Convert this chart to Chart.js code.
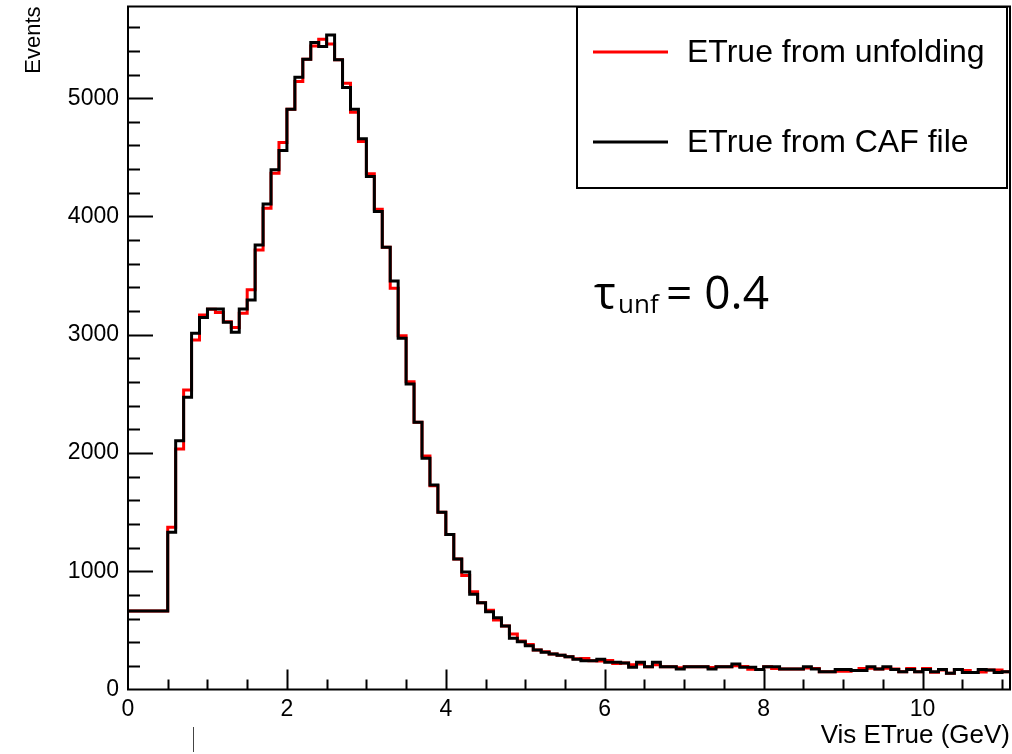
<!DOCTYPE html>
<html>
<head>
<meta charset="utf-8">
<script src="https://cdn.jsdelivr.net/npm/chart.js@4"></script>
<style>
  html, body { margin: 0; padding: 0; background: #fff; }
  #wrap { width: 1012px; height: 754px; }
</style>
</head>
<body>
<div id="wrap"><canvas id="chart" width="1012" height="754"></canvas></div>
<script>
// Bin edges (GeV): one wide bin 0-0.5, then 0.1 GeV bins up to 11.1
const binEdges = [0].concat(Array.from({ length: 107 }, (_, i) => Math.round((0.5 + i * 0.1) * 10) / 10));

// Counts per bin
const cafCounts = [
  664,
  1329, 2104, 2471, 3012, 3145, 3218, 3218, 3105, 3021, 3218,
  3294, 3759, 4106, 4394, 4557, 4907, 5177, 5330, 5470, 5437,
  5535, 5324, 5090, 4907, 4656, 4337, 4041, 3740, 3455, 2970,
  2584, 2260, 1955, 1730, 1499, 1310, 1104, 993, 805, 734,
  658, 607, 537, 433, 404, 370, 334, 315, 300, 290,
  277, 255, 244, 244, 255, 230, 230, 225, 188, 230,
  193, 230, 193, 193, 173, 193, 193, 193, 173, 193,
  193, 216, 188, 188, 170, 193, 193, 173, 173, 173,
  193, 173, 150, 150, 170, 170, 160, 160, 193, 173,
  193, 170, 150, 170, 150, 170, 150, 170, 137, 170,
  143, 143, 170, 165, 143, 150
];

const unfoldCounts = [
  664,
  1372, 2034, 2533, 2956, 3167, 3215, 3187, 3110, 3060, 3181,
  3379, 3717, 4070, 4366, 4625, 4907, 5141, 5330, 5442, 5499,
  5457, 5324, 5127, 4881, 4633, 4360, 4061, 3740, 3393, 2992,
  2603, 2260, 1975, 1722, 1499, 1310, 1104, 963, 827, 734,
  670, 588, 537, 469, 410, 380, 334, 320, 300, 290,
  277, 260, 262, 244, 240, 245, 220, 225, 210, 215,
  193, 210, 193, 193, 183, 193, 193, 193, 185, 193,
  193, 200, 195, 172, 170, 193, 178, 173, 173, 173,
  182, 178, 150, 150, 155, 155, 160, 178, 180, 173,
  180, 173, 150, 178, 150, 178, 145, 165, 137, 170,
  160, 143, 148, 165, 165, 150
];

const seriesLabels = ['ETrue from unfolding', 'ETrue from CAF file'];
const seriesColors = ['#ff0000', '#000000'];
const xTickLabels = [0, 2, 4, 6, 8, 10];
const yTickLabels = [0, 1000, 2000, 3000, 4000, 5000];
const xRange = [0, 11.1];
const yRange = [0, 5775];
const xMinorStep = 0.5;
const yMinorStep = 200;

// histogram -> step points (low edge of each bin, plus closing point)
function toSteps(counts) {
  const pts = counts.map((c, i) => ({ x: binEdges[i], y: c }));
  pts.push({ x: binEdges[counts.length], y: counts[counts.length - 1] });
  return pts;
}

const rootStyle = {
  id: 'rootStyle',
  afterDatasetsDraw(chart) {
    const { ctx, chartArea: a, scales: { x, y } } = chart;
    ctx.save();
    ctx.strokeStyle = '#000';
    ctx.lineWidth = 2;
    ctx.strokeRect(a.left, a.top, a.right - a.left, a.bottom - a.top);

    // inward ticks, ROOT style
    ctx.beginPath();
    for (let v = yMinorStep; v <= yRange[1]; v += yMinorStep) {
      const py = Math.round(y.getPixelForValue(v)) + 0.5;
      const len = yTickLabels.includes(v) ? 25 : 12;
      ctx.moveTo(a.left, py);
      ctx.lineTo(a.left + len, py);
    }
    for (let i = 1; i * xMinorStep <= xRange[1]; i++) {
      const v = i * xMinorStep;
      const px = Math.round(x.getPixelForValue(v)) + 0.5;
      const len = xTickLabels.includes(v) ? 20 : 10;
      ctx.moveTo(px, a.bottom);
      ctx.lineTo(px, a.bottom - len);
    }
    ctx.stroke();

    // legend box
    const box = { left: 577, top: 7, right: 1007, bottom: 188 };
    ctx.fillStyle = '#fff';
    ctx.fillRect(box.left, box.top, box.right - box.left, box.bottom - box.top);
    ctx.lineWidth = 2;
    ctx.strokeRect(box.left, box.top, box.right - box.left, box.bottom - box.top);
    ctx.font = '32px "Liberation Sans", Arial, sans-serif';
    ctx.textBaseline = 'middle';
    ctx.textAlign = 'left';
    chart.data.datasets.forEach((ds, i) => {
      const ly = 52 + i * 90;
      ctx.strokeStyle = ds.borderColor;
      ctx.lineWidth = 3;
      ctx.beginPath();
      ctx.moveTo(593, ly);
      ctx.lineTo(668, ly);
      ctx.stroke();
      ctx.fillStyle = '#000';
      ctx.fillText(ds.label, 687, ly + 1);
    });

    // regularisation note
    ctx.fillStyle = '#000';
    ctx.textBaseline = 'alphabetic';
    ctx.font = '46px "Open Sans", "Noto Sans", sans-serif';
    ctx.fillText('\u03c4', 594, 309);
    ctx.font = '26px "Open Sans", "Noto Sans", sans-serif';
    ctx.fillText('unf', 618, 313);
    ctx.font = '46px "Open Sans", "Noto Sans", sans-serif';
    ctx.fillText('= 0.4', 666, 309);

    // stray mark below the axis
    ctx.strokeStyle = '#444';
    ctx.lineWidth = 1;
    ctx.beginPath();
    ctx.moveTo(193.5, 727);
    ctx.lineTo(193.5, 752);
    ctx.stroke();
    ctx.restore();
  }
};

const fontFamily = '"Liberation Sans", Arial, sans-serif';

new Chart(document.getElementById('chart'), {
  type: 'line',
  data: {
    datasets: [
      { label: seriesLabels[0], data: toSteps(unfoldCounts), borderColor: seriesColors[0], borderWidth: 3,
        stepped: 'before', pointRadius: 0, fill: false, order: 1 },
      { label: seriesLabels[1], data: toSteps(cafCounts), borderColor: seriesColors[1], borderWidth: 3,
        stepped: 'before', pointRadius: 0, fill: false, order: 0 }
    ]
  },
  options: {
    responsive: false,
    animation: false,
    devicePixelRatio: 1,
    layout: { padding: { top: 6.5, right: 2, left: 0, bottom: 0 } },
    plugins: { legend: { display: false }, tooltip: { enabled: false } },
    scales: {
      x: {
        type: 'linear', min: xRange[0], max: xRange[1],
        grid: { display: false, drawTicks: false },
        border: { display: false },
        ticks: {
          padding: 6, maxRotation: 0, autoSkip: false, color: '#000',
          font: { family: fontFamily, size: 23 }, callback: v => String(v)
        },
        afterBuildTicks: s => { s.ticks = xTickLabels.map(v => ({ value: v })); },
        title: {
          display: true, text: 'Vis ETrue (GeV)', align: 'end', color: '#000',
          font: { family: fontFamily, size: 26 }, padding: { top: 0, bottom: 3 }
        },
        afterFit: s => { s.height = 64.5; s.paddingLeft = 0; s.paddingRight = 0; }
      },
      y: {
        type: 'linear', min: yRange[0], max: yRange[1],
        grid: { display: false, drawTicks: false },
        border: { display: false },
        ticks: {
          padding: 9, autoSkip: false, color: '#000',
          font: { family: fontFamily, size: 23 }, callback: v => String(v)
        },
        afterBuildTicks: s => { s.ticks = yTickLabels.map(v => ({ value: v })); },
        title: {
          display: true, text: 'Events', align: 'end', color: '#000',
          font: { family: fontFamily, size: 22 }, padding: { top: 21, bottom: 0 }
        },
        afterFit: s => { s.width = 128; s.paddingTop = 0; s.paddingBottom = 0; }
      }
    }
  },
  plugins: [rootStyle]
});
</script>
</body>
</html>
